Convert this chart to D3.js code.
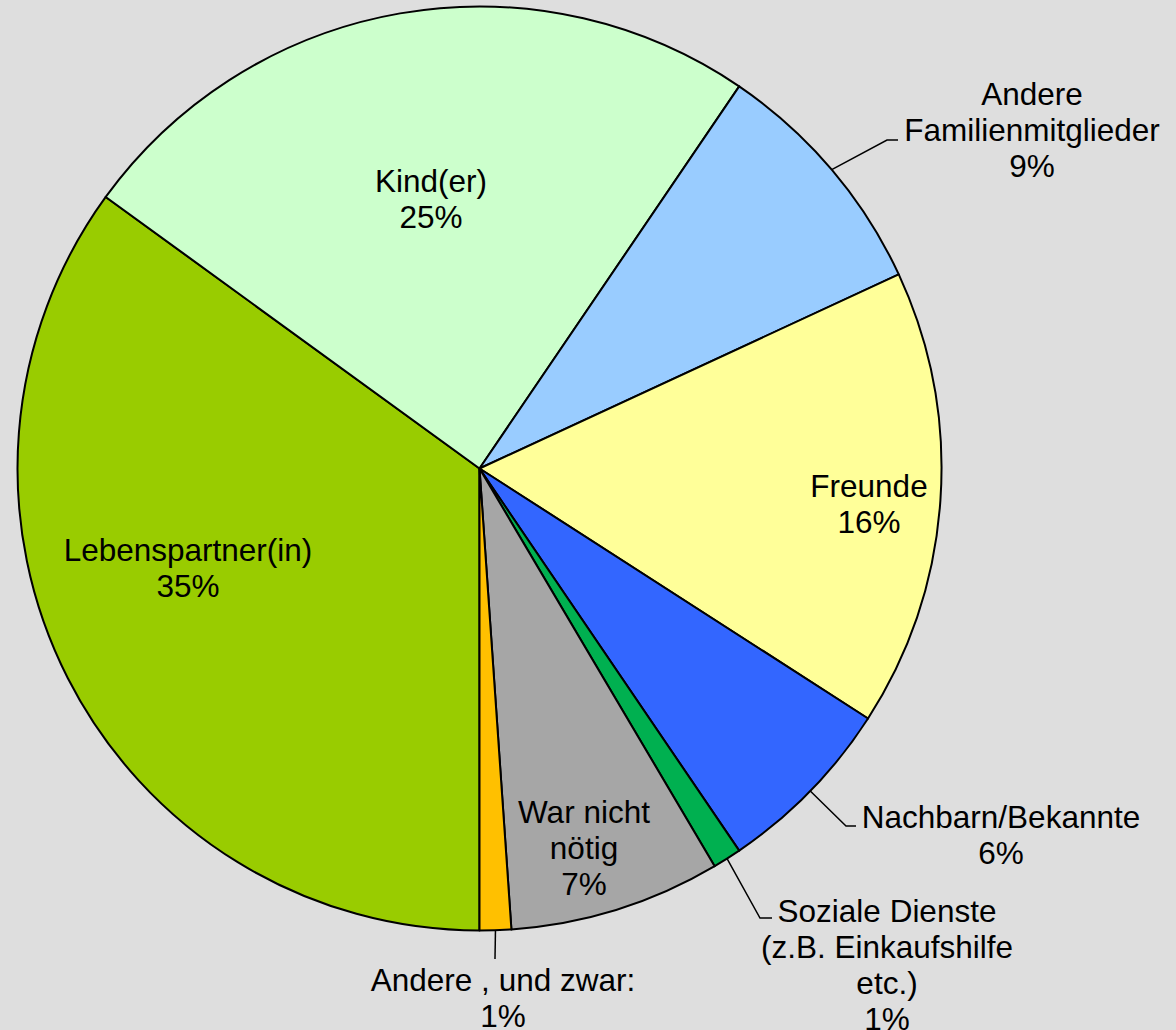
<!DOCTYPE html>
<html>
<head>
<meta charset="utf-8">
<script src="https://cdn.jsdelivr.net/npm/d3@7"></script>
<style>
    body { margin: 0; background: #dedede; }
    text { font-family: "Liberation Sans", Arial, sans-serif; font-size: 31.5px; fill: #000; }
</style>
</head>
<body>
<div id="chart"></div>
<script>
// categories in drawing order (clockwise, starting at 6 o'clock)
var categories = [
    "Lebenspartner(in)",
    "Kind(er)",
    "Andere\nFamilienmitglieder",
    "Freunde",
    "Nachbarn/Bekannte",
    "Soziale Dienste\n(z.B. Einkaufshilfe\netc.)",
    "War nicht\nnötig",
    "Andere , und zwar:"
];
var values = [35.0, 24.5, 8.6, 16.0, 6.4, 1.0, 7.4, 1.1];
var colors = ["#99cc00", "#ccffcc", "#99ccff", "#ffff99", "#3366ff", "#00b050", "#a6a6a6", "#ffc000"];

// label placement (centre x, first line y) and leader elbows, page coords
var labelPos = [
    [188, 550], [431, 181], [1032, 94], [869, 486],
    [1001, 817], [887, 911], [584, 812], [503, 980]
];
var leaders = [
    null, null, [[887, 140], [898, 140]], null,
    [[846, 826], [856, 826]], [[760, 918], [772, 918]], null, [[495, 959]]
];

chart();

function chart() {
    var width = 1176,
        height = 1030,
        cx = 479.5,
        cy = 468.5,
        radius = 462,
        lineH = 36;

    var svg = d3.select("#chart").append("svg")
        .attr("width", width)
        .attr("height", height);

    svg.append("rect")
        .attr("width", width)
        .attr("height", height)
        .attr("fill", "#dedede");

    var total = d3.sum(values);

    var pie = d3.pie()
        .sort(null)
        .startAngle(Math.PI)
        .endAngle(3 * Math.PI)
        .value(function (d) { return d; });

    var arc = d3.arc()
        .innerRadius(0)
        .outerRadius(radius);

    // zero-width arc on the rim: its centroid is the leader start
    var rim = d3.arc()
        .innerRadius(radius)
        .outerRadius(radius);

    var arcs = pie(values);

    var g = svg.append("g")
        .attr("transform", "translate(" + cx + "," + cy + ")");

    g.selectAll(".slice")
        .data(arcs)
        .enter().append("path")
        .attr("class", "slice")
        .attr("d", arc)
        .attr("fill", function (d, i) { return colors[i]; })
        .attr("stroke", "#000")
        .attr("stroke-width", 2)
        .attr("stroke-linejoin", "round");

    // leader lines
    arcs.forEach(function (d, i) {
        if (!leaders[i]) return;
        var c = rim.centroid(d);
        var pts = [[cx + c[0], cy + c[1]]].concat(leaders[i]);
        svg.append("path")
            .attr("d", d3.line()(pts))
            .attr("fill", "none")
            .attr("stroke", "#000")
            .attr("stroke-width", 1.5);
    });

    // labels
    arcs.forEach(function (d, i) {
        var lines = categories[i].split("\n");
        lines.push(Math.round(values[i] / total * 100) + "%");
        var t = svg.append("text")
            .attr("text-anchor", "middle");
        lines.forEach(function (s, k) {
            t.append("tspan")
                .attr("x", labelPos[i][0])
                .attr("y", labelPos[i][1] + k * lineH)
                .attr("dy", "0.35em")
                .text(s);
        });
    });
}
</script>
</body>
</html>
